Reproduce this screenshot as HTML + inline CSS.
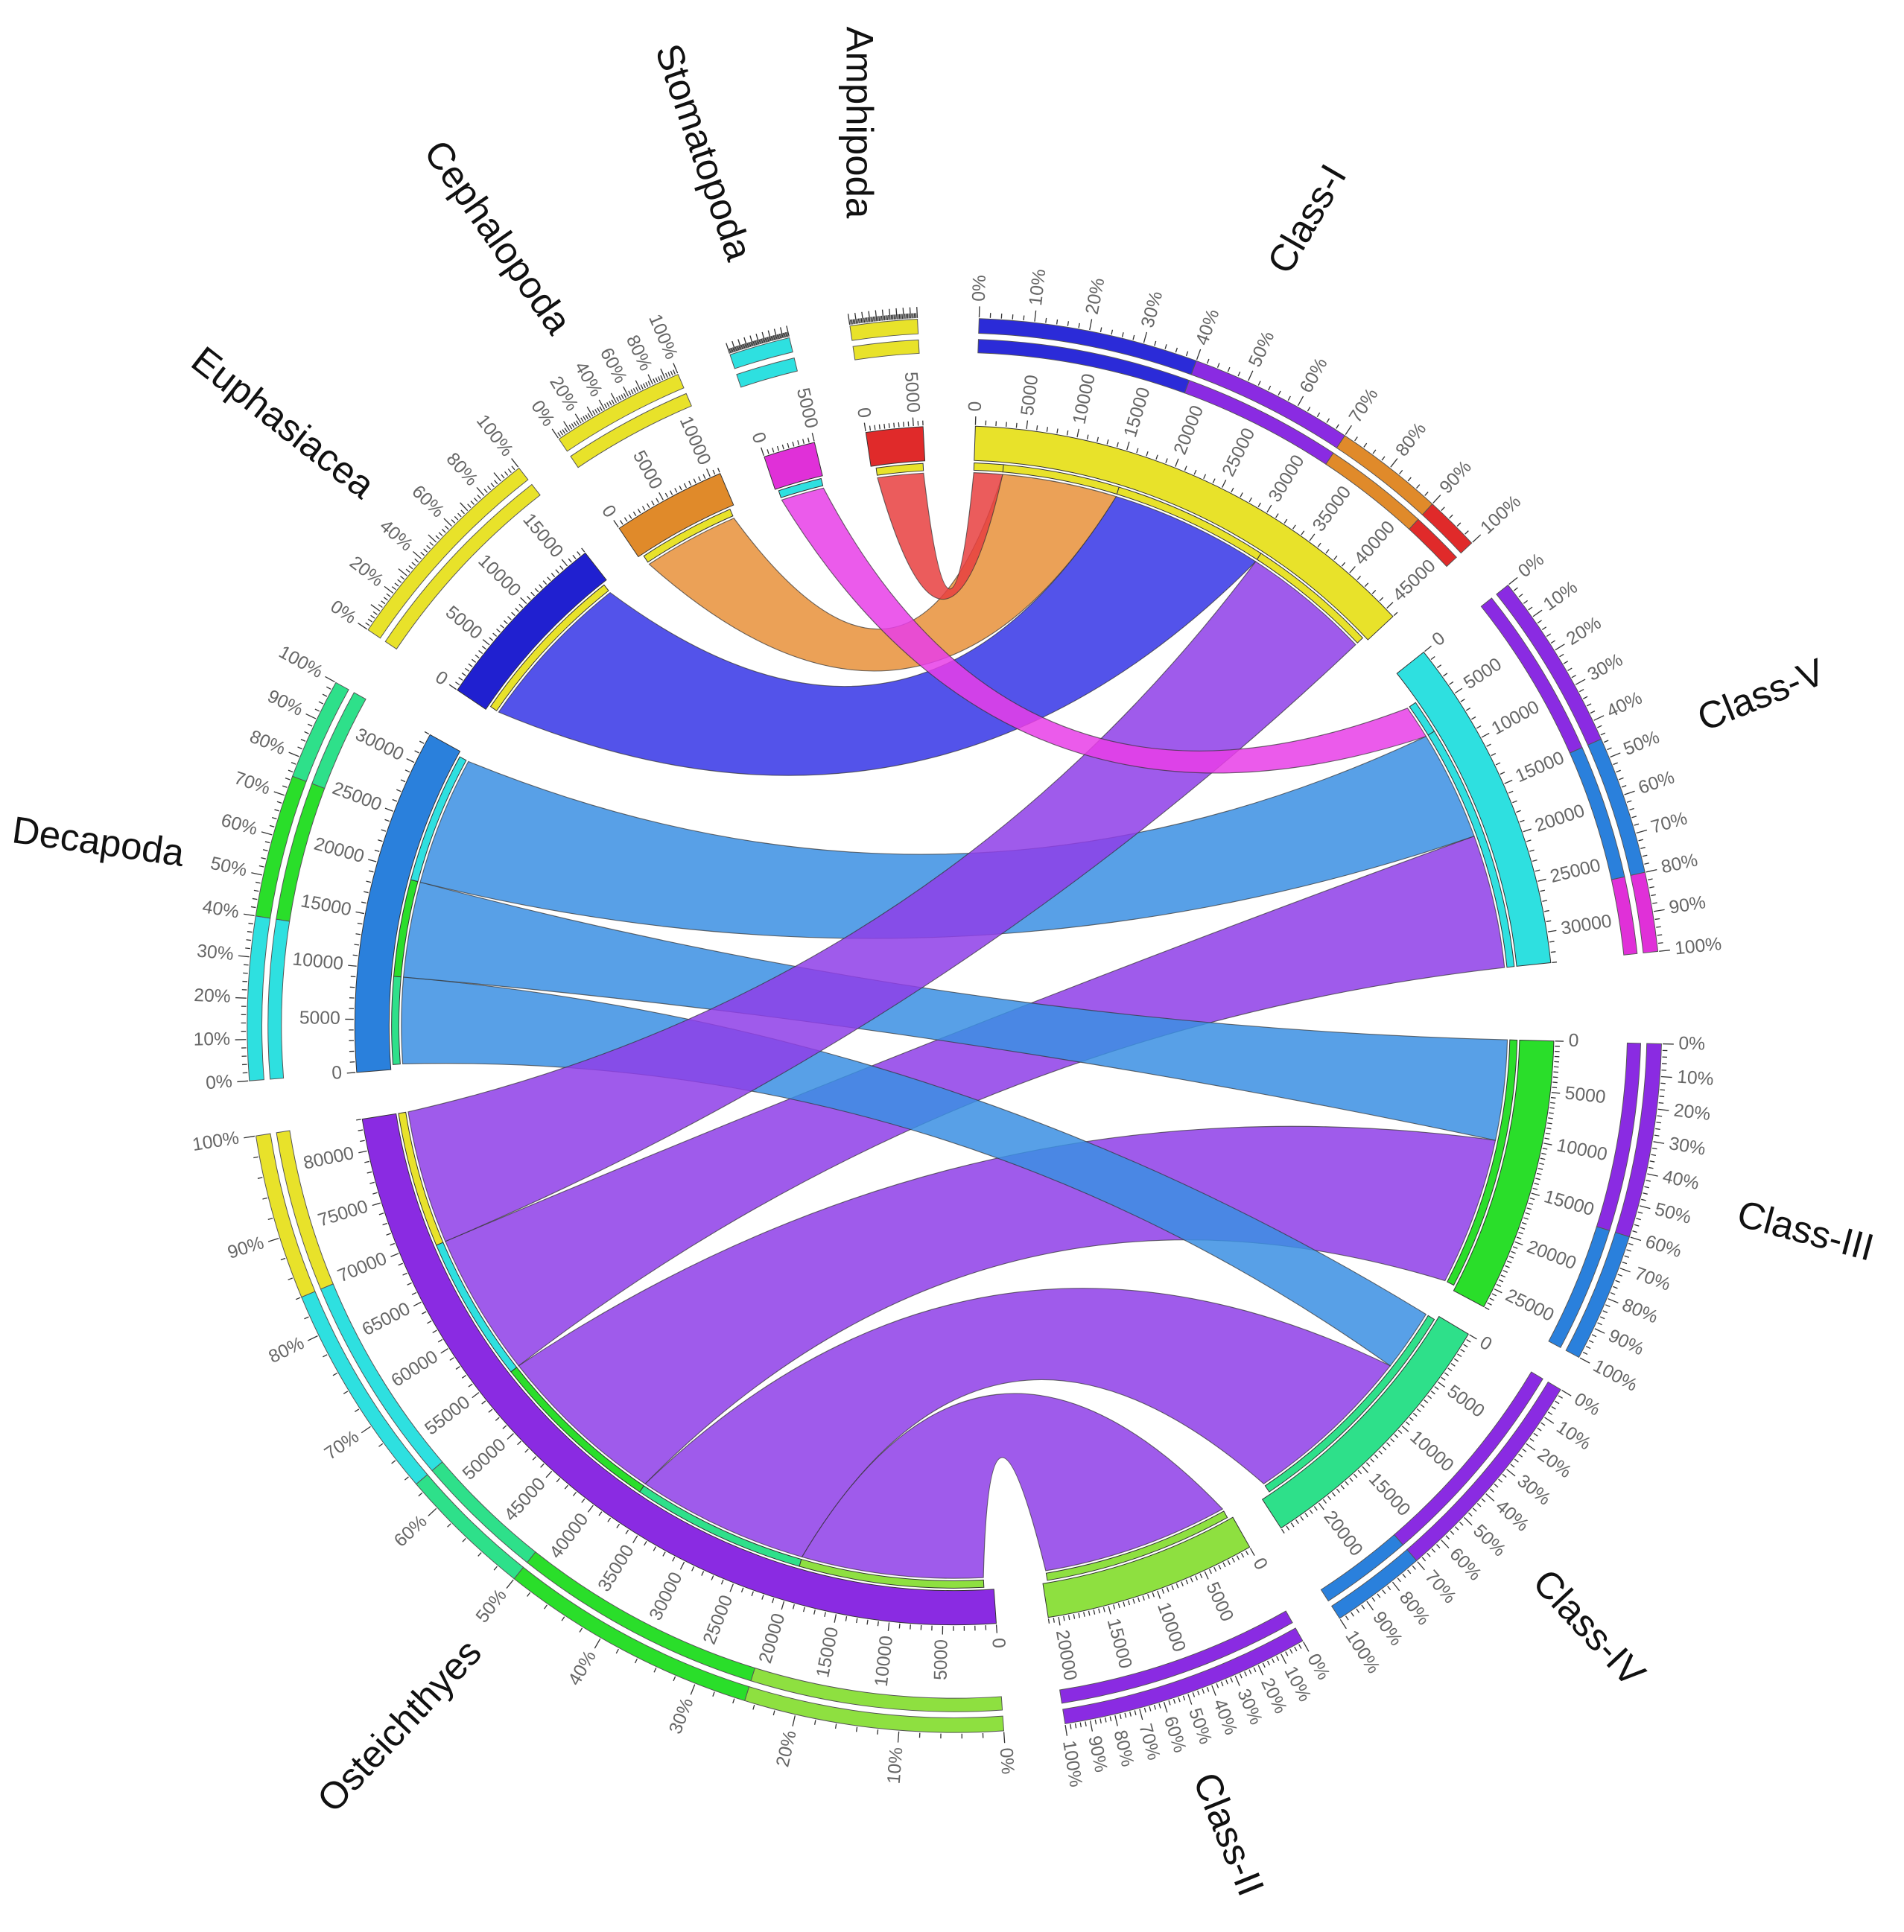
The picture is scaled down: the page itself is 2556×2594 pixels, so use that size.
<!DOCTYPE html>
<html><head><meta charset="utf-8"><style>
html,body{margin:0;padding:0;background:#fff;}
svg{display:block;}
</style></head><body>
<svg id="s" xmlns="http://www.w3.org/2000/svg" width="2556" height="2594" viewBox="0 0 1556 1579"></svg>
<script>
const S=document.getElementById('s');
const cx=780,cy=838;
const NS='http://www.w3.org/2000/svg';
function P(a,r){const t=(a-90)*Math.PI/180;return [cx+r*Math.cos(t),cy+r*Math.sin(t)];}
function el(tag,attrs,txt){const e=document.createElementNS(NS,tag);for(const k in attrs)e.setAttribute(k,attrs[k]);if(txt!==undefined)e.textContent=txt;S.appendChild(e);return e;}
function sector(a1,a2,r1,r2,fill,stroke){
 const p1=P(a1,r2),p2=P(a2,r2),p3=P(a2,r1),p4=P(a1,r1);const lg=(a2-a1)>180?1:0;
 el('path',{d:`M${p1}A${r2},${r2} 0 ${lg} 1 ${p2}L${p3}A${r1},${r1} 0 ${lg} 0 ${p4}Z`,fill:fill,stroke:stroke||'#444','stroke-width':0.6});
}
function ctrl(a,b,R){
 let d=Math.abs(a-b)%360; if(d>180)d=360-d;
 const f=Math.max(0,0.6*(1-d/150));
 const pa=P(a,1),pb=P(b,1);let vx=(pa[0]-cx)+(pb[0]-cx),vy=(pa[1]-cy)+(pb[1]-cy);const L=Math.hypot(vx,vy)||1;
 return [cx+vx/L*f*R,cy+vy/L*f*R];
}
function chord(a1,a2,b1,b2,col){
 const R=452;const A1=P(a1,R),A2=P(a2,R),B1=P(b1,R),B2=P(b2,R);
 const c1=ctrl(a2,b1,R),c2=ctrl(b2,a1,R);
 el('path',{d:`M${A1}A${R},${R} 0 0 1 ${A2}Q${c1} ${B1}A${R},${R} 0 0 1 ${B2}Q${c2} ${A1}Z`,fill:col,'fill-opacity':0.85,stroke:'#333','stroke-width':0.7,'stroke-opacity':0.7});
}
const segs=[
 {n:'Class-I',a:2,b:47,tot:46000,c:'#e8e22a',o:[[0,.4,'#2b2bd8'],[.4,.7,'#8a2be2'],[.7,.9,'#e08a2a'],[.9,1,'#e02a2a']]},
 {n:'Class-V',a:51.5,b:84,tot:33000,c:'#2ee0e0',o:[[0,.45,'#8a2be2'],[.45,.8,'#2a80dc'],[.8,1,'#e030d8']]},
 {n:'Class-III',a:91.5,b:118,tot:27000,c:'#2ade2a',o:[[0,.6,'#8a2be2'],[.6,1,'#2a80dc']]},
 {n:'Class-IV',a:121,b:147,tot:24000,c:'#2ee08a',o:[[0,.7,'#8a2be2'],[.7,1,'#2a80dc']]},
 {n:'Class-II',a:150.5,b:171,tot:21000,c:'#8ee040',o:[[0,1,'#8a2be2']]},
 {n:'Osteichthyes',a:176,b:261,tot:83000,c:'#8a2be2',o:[[0,.25,'#8ee040'],[.25,.5,'#2ade2a'],[.5,.63,'#2ee08a'],[.63,.84,'#2ee0e0'],[.84,1,'#e8e22a']]},
 {n:'Decapoda',a:265.5,b:299,tot:33000,c:'#2a80dc',o:[[0,.4,'#2ee0e0'],[.4,.75,'#2ade2a'],[.75,1,'#2ee08a']]},
 {n:'Euphasiacea',a:304,b:322,tot:17000,c:'#2020d0',o:[[0,1,'#e8e22a']],p20:1},
 {n:'Cephalopoda',a:326,b:337,tot:11000,c:'#e08a2a',o:[[0,1,'#e8e22a']],p20:1},
 {n:'Stomatopoda',a:341.5,b:346.5,tot:5000,c:'#e030d8',o:[[0,1,'#2ee0e0']],np:1},
 {n:'Amphipoda',a:351.5,b:357,tot:6000,c:'#e02a2a',o:[[0,1,'#e8e22a']],np:1},
];
const cols={red:'#e84040',ora:'#e8903a',dblue:'#3535e6',mag:'#e83ee8',blue:'#3b8fe3',pur:'#8e3ee8'};
chord(196,214,128,146,cols.pur);
chord(177,196,151,170.5,cols.pur);
chord(214,232,102,117.5,cols.pur);
chord(232,247,70,84,cols.pur);
chord(266,275,121.5,128,cols.blue);
chord(275,285,91.5,102,cols.blue);
chord(285,298.5,58.5,70,cols.blue);
chord(247,261,33,46.5,cols.pur);
chord(304.5,321.5,17,33,cols.dblue);
chord(326.5,336.5,5,17,cols.ora);
chord(341.8,346.3,55,58.5,cols.mag);
chord(352,356.8,2,5,cols.red);
const thin=[[2,5,'#e8e22a'],[5,17,'#e8e22a'],[17,33,'#e8e22a'],[33,46.5,'#e8e22a'],[55,58.5,'#2ee0e0'],[58.5,84,'#2ee0e0'],[91.5,117.5,'#2ade2a'],[121.5,146,'#2ee08a'],[151,170.5,'#8ee040'],
[177,196,'#8ee040'],[196,214,'#2ee08a'],[214,232,'#2ade2a'],[232,247,'#2ee0e0'],[247,261,'#e8e22a'],[266,275,'#2ee08a'],[275,285,'#2ade2a'],[285,298.5,'#2ee0e0'],[304.5,321.5,'#e8e22a'],[326.5,336.5,'#e8e22a'],[341.8,346.3,'#2ee0e0'],[352,356.8,'#e8e22a']];
thin.forEach(t=>sector(t[0],t[1],454,460,t[2],'#333'));
segs.forEach(s=>{
 sector(s.a,s.b,462,490,s.c,'#333');
 const span=s.b-s.a;
 const step=s.tot>30000?1000:500;
 for(let v=0;v<=s.tot;v+=step){const a=s.a+v/s.tot*span;const big=v%5000===0;const p1=P(a,491),p2=P(a,big?498:495);el('line',{x1:p1[0],y1:p1[1],x2:p2[0],y2:p2[1],stroke:'#333','stroke-width':0.8});
  if(big){const right=a<180;const p=P(a,502);el('text',{x:p[0],y:p[1],'font-family':'Liberation Sans,sans-serif','font-size':15,fill:'#666','text-anchor':right?'start':'end','dominant-baseline':'middle',transform:`rotate(${right?a-90:a+90} ${p[0]} ${p[1]})`},String(v));}
 }
 s.o.forEach(o=>{const a1=s.a+o[0]*span,a2=s.a+o[1]*span;sector(a1,a2,550,561,o[2],'#555');sector(a1,a2,566,578,o[2],'#555');});
 for(let k=0;k<=100;k+=2){const a=s.a+k/100*span;const big=k%10===0;const p1=P(a,579),p2=P(a,big?588:583);el('line',{x1:p1[0],y1:p1[1],x2:p2[0],y2:p2[1],stroke:'#333','stroke-width':0.8});
  if(!s.np&&big&&(!s.p20||k%20===0)){const right=a<180;const p=P(a,592);el('text',{x:p[0],y:p[1],'font-family':'Liberation Sans,sans-serif','font-size':15,fill:'#666','text-anchor':right?'start':'end','dominant-baseline':'middle',transform:`rotate(${right?a-90:a+90} ${p[0]} ${p[1]})`},k+'%');}
 }
});
const labs=[['Amphipoda',700,100,90],['Stomatopoda',573,125,71],['Cephalopoda',405,195,55],['Euphasiacea',230,347,38],['Decapoda',80,690,8],['Osteichthyes',328,1412,-47],['Class-II',1002,1500,68],['Class-IV',1297,1332,47],['Class-III',1475,1008,15],['Class-V',1440,570,-22],['Class-I',1070,180,-60]];
labs.forEach(l=>el('text',{x:l[1],y:l[2],'font-family':'Liberation Sans,sans-serif','font-size':31,fill:'#111','text-anchor':'middle','dominant-baseline':'middle',transform:`rotate(${l[3]} ${l[1]} ${l[2]})`},l[0]));
</script>
</body></html>
